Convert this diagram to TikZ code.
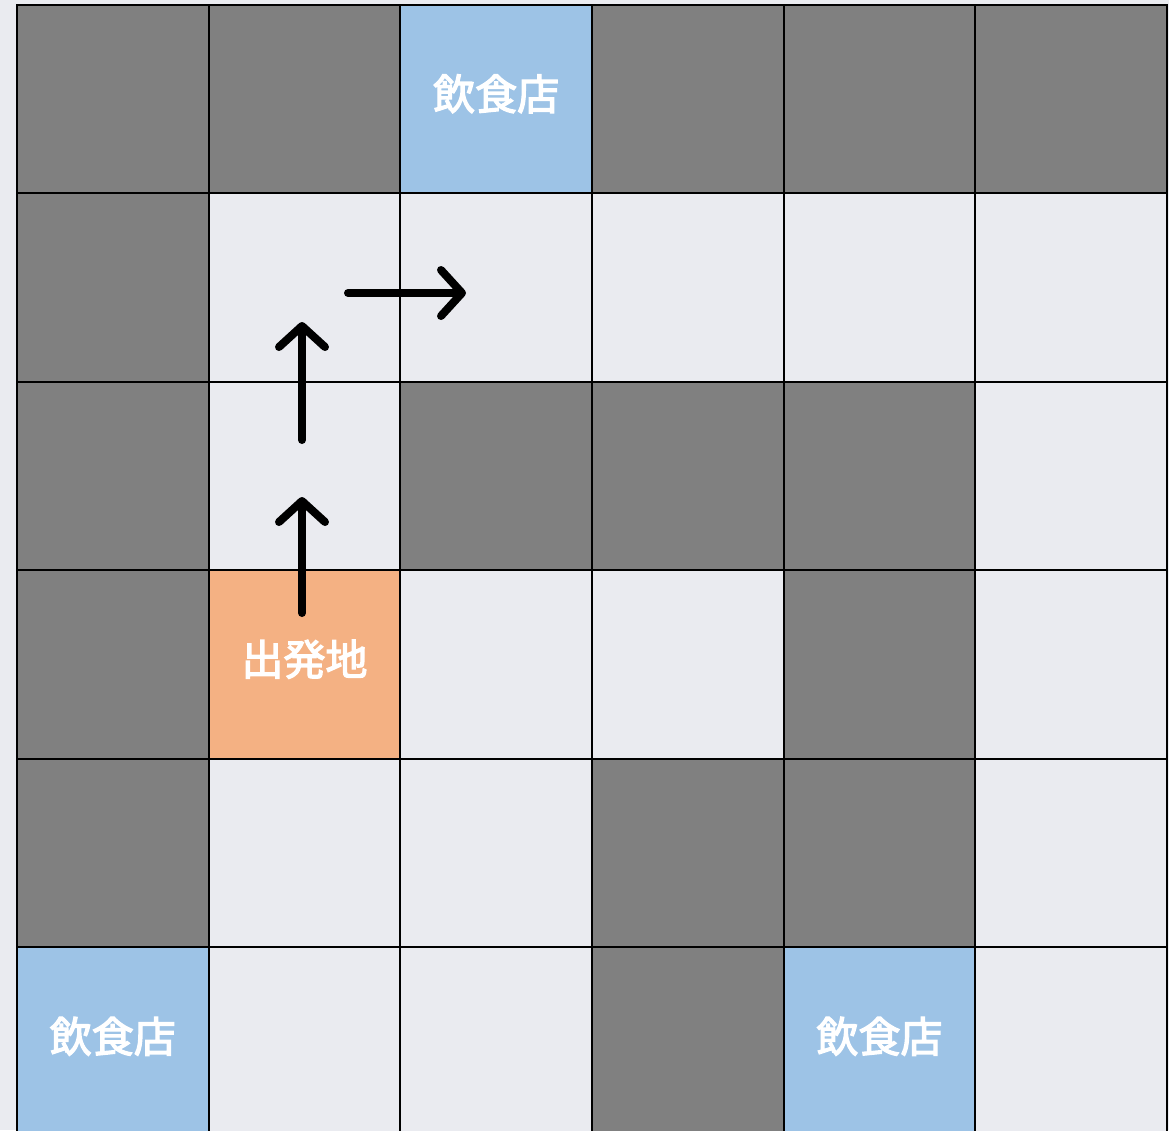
\documentclass[tikz,border=0pt]{standalone}
\usepackage{fontspec}
\newfontfamily\cjk{Noto Sans CJK JP}[FakeBold=3]
\usetikzlibrary{arrows.meta}
\definecolor{wall}{HTML}{808080}
\definecolor{road}{HTML}{EAEBF0}
\definecolor{shop}{HTML}{9DC3E6}
\definecolor{start}{HTML}{F4B183}
\tikzset{
  cell/.style={draw=black, line width=2pt, minimum width=191.67pt, minimum height=188.5pt, inner sep=0pt, outer sep=0pt, anchor=north west},
  W/.style={cell, fill=wall},
  L/.style={cell, fill=road},
  B/.style={cell, fill=shop},
  O/.style={cell, fill=start},
  label/.style={font=\cjk\fontsize{42pt}{48pt}\selectfont, text=white, inner sep=0pt},
  move/.style={line width=8pt, line cap=round, -{Straight Barb[length=21pt, width=46pt, round]}}
}
\begin{document}
\begin{tikzpicture}[x=1pt, y=-1pt]
\useasboundingbox (0,0) rectangle (1169,1130);
\fill[road] (0,0) rectangle (1169,1130);
\clip (0,0) rectangle (1169,1130);
\def\cw{191.67}
\def\ch{188.5}
\foreach \r/\row in {0/{W,W,B,W,W,W},1/{W,L,L,L,L,L},2/{W,L,W,W,W,L},3/{W,O,L,L,W,L},4/{W,L,L,W,W,L},5/{B,L,L,W,B,L}}{
  \foreach \t [count=\c from 0] in \row {
    \node[\t] (c-\r-\c) at ({17+\c*\cw},{4.5+\r*\ch}) {};
  }
}
\node[label] (shop1) at ([yshift=5pt]c-0-2.center) {飲食店};
\node[label] (home) at ([yshift=5pt]c-3-1.center) {出発地};
\node[label] (shop2) at ([yshift=5pt]c-5-0.center) {飲食店};
\node[label] (shop3) at ([yshift=5pt]c-5-4.center) {飲食店};
\coordinate (a1s) at (302,613);
\coordinate (a1e) at (302,497);
\coordinate (a2s) at (302,440);
\coordinate (a2e) at (302,322);
\coordinate (a3s) at (348,293);
\coordinate (a3e) at (466,293);
\draw[move] (a1s) -- (a1e);
\draw[move] (a2s) -- (a2e);
\draw[move] (a3s) -- (a3e);
\end{tikzpicture}
\end{document}
